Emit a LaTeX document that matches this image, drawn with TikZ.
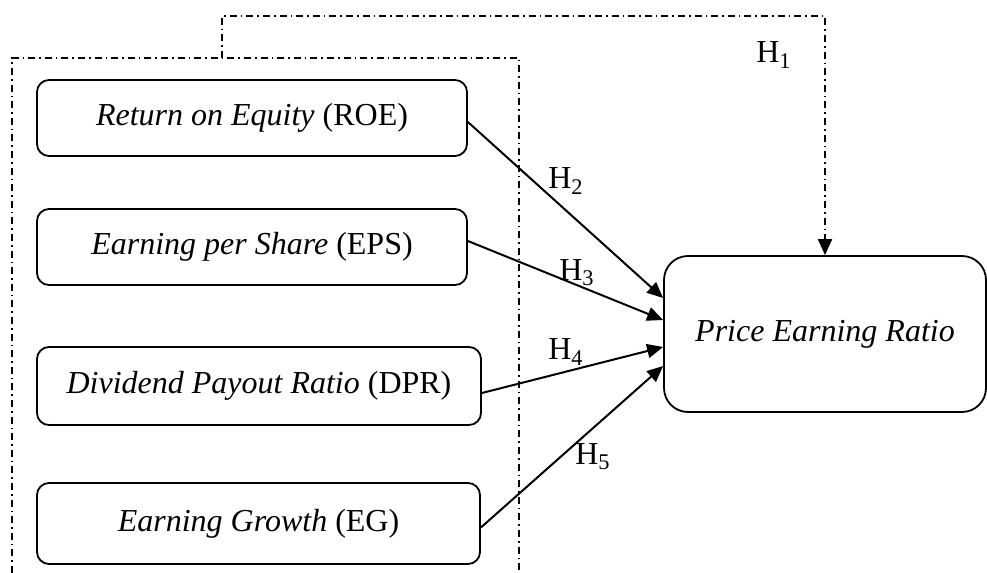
\documentclass[tikz,border=0pt]{standalone}
\usepackage{fontspec}
\setmainfont{Liberation Serif}
\usepackage{tikz}
\usetikzlibrary{arrows.meta, positioning}

\begin{document}
\begin{tikzpicture}[
  x=0.5pt, y=-0.5pt,
  var/.style={rectangle, rounded corners=6pt, draw, line width=0.9pt, font=\fontsize{16}{19}\selectfont},
  hyp/.style={font=\fontsize{16}{19}\selectfont, inner sep=0pt},
  link/.style={-{Triangle[length=8pt, width=7pt]}, line width=1pt},
  dashdot/.style={line width=0.8pt, dash pattern=on 3.5pt off 2pt on 0.8pt off 2pt}
]
  \useasboundingbox (0,0) rectangle (987,573);

  \node[var, minimum width=215pt, minimum height=38pt] (roe) at (252,118) {\textit{Return on Equity} (ROE)};
  \node[var, minimum width=215pt, minimum height=38pt] (eps) at (252,247) {\textit{Earning per Share} (EPS)};
  \node[var, minimum width=222pt, minimum height=39pt] (dpr) at (259,386) {\textit{Dividend Payout Ratio} (DPR)};
  \node[var, minimum width=221.5pt, minimum height=40.5pt] (eg) at (258.5,523.5) {\textit{Earning Growth} (EG)};

  \node[var, rounded corners=12pt, minimum width=161pt, minimum height=78pt] (per) at (825,334) {\raisebox{3.5pt}{\textit{Price Earning Ratio}}};

  \draw[dashdot] (12,573) -- (12,58) -- (519,58) -- (519,573);
  \coordinate (top) at (222,58);
  \draw[dashdot, link] (top) -- (222,16) -| (per.north);

  \draw[link] ([yshift=-2pt]roe.east) -- ([yshift=18pt]per.west);
  \draw[link] ([yshift=3pt]eps.east) -- ([yshift=7pt]per.west);
  \draw[link] ([yshift=-3.5pt]dpr.east) -- ([yshift=-6.5pt]per.west);
  \draw[link] ([yshift=-2pt]eg.east) -- ([yshift=-16pt]per.west);

  \node[hyp] (h1) at (774,55) {H\textsubscript{1}};
  \node[hyp] (h2) at (566,181) {H\textsubscript{2}};
  \node[hyp] (h3) at (577,273) {H\textsubscript{3}};
  \node[hyp] (h4) at (566,352) {H\textsubscript{4}};
  \node[hyp] (h5) at (593,457) {H\textsubscript{5}};
\end{tikzpicture}
\end{document}
